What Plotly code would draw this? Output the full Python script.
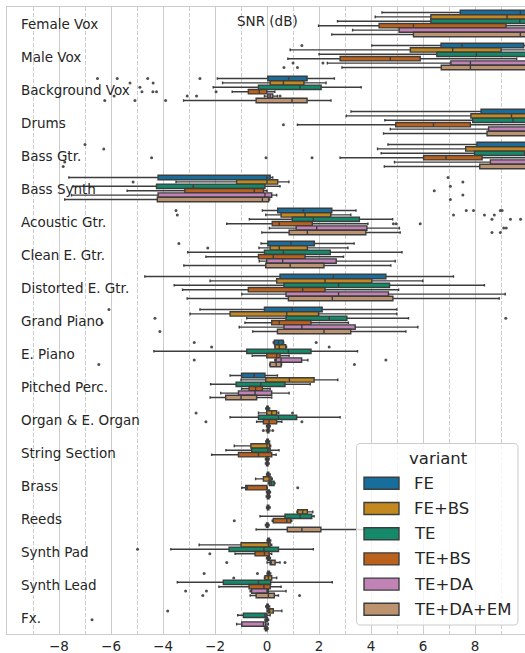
import plotly.graph_objects as go

# ---------------- data ----------------
categories = ["Female Vox", "Male Vox", "Background Vox", "Drums", "Bass Gtr.",
              "Bass Synth", "Acoustic Gtr.", "Clean E. Gtr.", "Distorted E. Gtr.",
              "Grand Piano", "E. Piano", "Pitched Perc.", "Organ & E. Organ",
              "String Section", "Brass", "Reeds", "Synth Pad", "Synth Lead", "Fx."]
variants = ["FE", "FE+BS", "TE", "TE+BS", "TE+DA", "TE+DA+EM"]
colors = ["#176D9C", "#C38820", "#158A6A", "#BA611B", "#C183B6", "#BD926E"]
x_ticks = [-8, -6, -4, -2, 0, 2, 4, 6, 8]

# (lower whisker, q1, median, q3, upper whisker) per category
FE = [(4.42, 7.43, 9.74, 11.6, 14.5), (4.03, 6.69, 7.50, 9.87, 12.6),
      (-1.91, 0.03, 0.83, 1.54, 2.59), (3.23, 8.23, 10.3, 12.0, 14.5),
      (4.65, 8.07, 10.2, 11.8, 14.0), (-7.62, -4.19, -0.01, 0.12, 0.22),
      (-0.18, 0.41, 1.40, 2.49, 3.42), (-0.23, 0.03, 0.92, 1.82, 3.35),
      (-4.70, 0.50, 2.55, 4.57, 7.17), (-2.58, -0.10, 0.97, 2.12, 4.99),
      (0.24, 0.28, 0.44, 0.62, 0.64), (-1.42, -0.98, -0.49, -0.08, 0.40),
      (-0.05, -0.01, 0.02, 0.05, 0.10), (-0.05, -0.01, 0.02, 0.05, 0.10),
      (-0.02, 0.01, 0.04, 0.07, 0.12), (-0.02, 0.01, 0.04, 0.07, 0.12),
      (0.00, 0.03, 0.06, 0.09, 0.14), (0.00, 0.03, 0.06, 0.09, 0.14),
      (-0.05, -0.01, 0.02, 0.05, 0.10)]
FE_BS = [(4.16, 6.30, 9.23, 11.0, 14.0), (0.89, 5.51, 7.14, 9.00, 12.0),
         (-1.71, 0.12, 0.63, 1.42, 2.27), (3.05, 7.84, 9.40, 11.2, 14.0),
         (4.25, 7.64, 10.3, 11.3, 14.0), (-3.50, -1.17, 0.00, 0.41, 0.84),
         (-0.05, 0.54, 1.46, 2.45, 3.22), (-0.31, 0.12, 0.47, 1.55, 3.11),
         (-2.19, 0.37, 2.23, 4.03, 5.99), (-2.96, -1.42, 0.76, 1.98, 4.99),
         (0.30, 0.31, 0.47, 0.72, 0.75), (-1.00, -0.05, 0.86, 1.81, 2.72),
         (-0.33, -0.01, 0.18, 0.37, 0.45), (-1.26, -0.62, 0.00, 0.10, 0.14),
         (-0.44, -0.14, 0.08, 0.15, 0.20), (1.15, 1.18, 1.37, 1.55, 1.76),
         (-2.61, -1.00, 0.05, 0.12, 0.18), (-0.10, -0.08, 0.05, 0.18, 0.37),
         (0.00, 0.05, 0.10, 0.24, 0.57)]
TE = [(2.71, 6.30, 9.72, 11.5, 14.0), (2.00, 6.53, 8.05, 10.3, 13.0),
      (-2.07, -0.33, 1.27, 2.08, 3.62), (4.53, 7.91, 9.46, 11.0, 13.5),
      (4.39, 7.98, 9.90, 11.5, 14.0), (-7.46, -4.25, -2.84, -0.08, 0.50),
      (-0.68, 0.97, 1.78, 3.55, 4.83), (-3.05, -0.10, 0.63, 2.43, 5.19),
      (-3.57, 0.65, 2.75, 4.71, 8.36), (-0.78, 0.73, 2.39, 3.07, 5.44),
      (-4.35, -0.78, 0.82, 1.69, 3.48), (-2.17, -1.19, -0.24, 0.69, 1.66),
      (-1.42, -0.33, 0.44, 1.14, 2.81), (-1.58, -0.59, 0.03, 0.12, 0.46),
      (0.05, 0.09, 0.16, 0.27, 0.30), (-0.27, 0.69, 1.27, 1.72, 1.81),
      (-3.70, -1.46, -0.12, 0.44, 1.78), (-3.45, -1.68, -0.33, 0.14, 2.51),
      (-1.13, -0.91, -0.08, -0.01, 0.12)]
TE_BS = [(1.98, 4.31, 5.63, 9.19, 12.0), (0.80, 2.81, 4.74, 5.89, 9.60),
         (-1.34, -0.72, -0.30, -0.01, 0.30), (1.17, 4.95, 6.40, 7.82, 11.0),
         (2.81, 6.02, 6.88, 8.27, 11.5), (-5.38, -3.16, -0.49, -0.14, 0.00),
         (-1.55, 0.20, 0.47, 1.74, 3.88), (-2.35, -0.33, 0.24, 1.46, 2.94),
         (-3.25, -0.72, 1.37, 2.23, 5.06), (-0.85, 0.18, 0.47, 1.69, 3.13),
         (-0.57, -0.01, 0.37, 0.50, 0.85), (-0.98, -0.69, -0.44, -0.18, 0.12),
         (-0.40, -0.14, 0.08, 0.37, 0.57), (-2.13, -1.10, -0.33, 0.18, 0.35),
         (-0.97, -0.82, -0.76, -0.01, 0.01), (0.20, 0.24, 0.76, 0.91, 0.95),
         (-1.23, -0.46, -0.10, 0.08, 0.18), (-1.85, -0.69, -0.12, 0.12, 0.54),
         (-0.08, -0.04, -0.01, 0.02, 0.06)]
TE_DA = [(3.29, 5.08, 10.3, 12.5, 15.0), (2.32, 7.07, 7.82, 10.5, 13.0),
         (-0.10, 0.03, 0.12, 0.22, 0.40), (4.74, 8.52, 10.4, 12.0, 14.5),
         (4.90, 8.59, 10.3, 12.0, 14.5), (-7.52, -4.19, -0.08, 0.18, 0.37),
         (0.09, 1.12, 1.91, 3.84, 5.09), (-0.30, -0.01, 0.60, 2.66, 4.93),
         (-0.97, 0.73, 2.75, 4.67, 9.16), (-1.07, 0.65, 1.34, 3.39, 5.80),
         (0.30, 0.35, 0.54, 1.33, 1.57), (-1.78, -1.10, -0.46, 0.18, 0.85),
         (-0.02, 0.02, 0.05, 0.08, 0.12), (-0.06, -0.02, 0.01, 0.04, 0.08),
         (-0.02, 0.02, 0.06, 0.09, 0.13), (-0.06, -0.02, 0.01, 0.04, 0.08),
         (-0.02, 0.02, 0.06, 0.09, 0.13), (-0.65, -0.59, 0.00, 0.05, 0.73),
         (-1.17, -0.97, -0.14, -0.05, 0.05)]
TE_DA_EM = [(2.49, 5.63, 9.74, 11.5, 14.0), (2.88, 6.70, 7.82, 10.2, 13.0),
            (-3.21, -0.42, 0.96, 1.54, 2.46), (4.48, 8.46, 10.3, 12.0, 14.5),
            (4.51, 8.18, 10.1, 11.8, 14.0), (-7.78, -4.22, -0.18, 0.06, 0.10),
            (-0.20, 0.85, 1.55, 3.80, 5.12), (-3.20, -0.05, 0.89, 2.19, 4.76),
            (-3.07, 0.82, 2.51, 4.84, 8.93), (-0.55, 0.40, 2.19, 3.22, 5.34),
            (0.10, 0.12, 0.35, 0.54, 0.56), (-2.19, -1.59, -1.00, -0.40, 0.18),
            (-0.03, 0.01, 0.04, 0.07, 0.11), (-0.06, -0.02, 0.01, 0.04, 0.08),
            (-0.03, 0.01, 0.05, 0.08, 0.12), (-0.42, 0.78, 1.34, 2.07, 3.71),
            (0.00, 0.12, 0.15, 0.31, 0.50), (-0.65, -0.42, 0.05, 0.28, 0.44),
            (-0.10, -0.06, -0.03, 0.00, 0.04)]

# outliers: (category index, value)
FE_out = [(1, 1.34), (2, -6.52), (2, -5.76), (2, -4.59), (2, -2.58), (4, -7.0),
          (5, 6.96), (6, -3.5), (6, 7.66), (6, 7.94), (6, 8.97), (6, 9.04),
          (7, -3.39), (9, -6.08), (10, -2.8), (10, 1.89), (17, -2.42), (17, -0.37)]
FE_BS_out = [(2, -5.27), (2, -4.38), (4, -6.28), (5, -5.15), (5, 7.53),
             (6, -3.45), (6, 7.17), (6, 8.36), (6, 8.74), (7, -2.28),
             (10, -2.13), (10, 2.39), (12, -2.73), (12, 0.98), (17, -1.28), (18, -3.82)]
TE_out = [(2, -4.89), (5, 7.05), (6, 8.65), (6, 9.36), (6, 9.75),
          (9, -4.31), (9, 9.18), (16, -4.98)]
TE_BS_out = [(2, -4.81), (2, -4.39), (2, -4.25), (2, -1.96), (3, 0.63),
             (4, -4.44), (4, -0.04), (4, 1.73), (5, 6.43), (6, 4.86), (6, 4.97),
             (6, 5.89), (9, -6.34), (12, -2.35), (12, 1.34), (14, 1.18),
             (15, -1.26), (16, -2.2), (18, -6.73)]
TE_DA_out = [(1, 1.0), (1, 2.15), (2, -5.88), (2, -3.07), (2, -2.71), (2, 0.5),
             (4, -7.78), (5, 7.53), (6, 9.1), (6, 9.2), (10, -2.8), (10, 4.57),
             (17, -3.13), (17, -2.33)]
TE_DA_EM_out = [(1, 0.65), (1, 1.17), (2, -6.24), (2, -5.08), (2, -3.9), (4, -7.84),
                (5, 7.05), (6, 8.65), (6, 8.97), (9, -4.12), (10, -6.47), (10, 3.36),
                (12, -0.14), (12, 0.22), (16, -1.55), (16, 0.69), (17, -2.47), (17, 1.25)]

stats = [FE, FE_BS, TE, TE_BS, TE_DA, TE_DA_EM]
outs = [FE_out, FE_BS_out, TE_out, TE_BS_out, TE_DA_out, TE_DA_EM_out]

# ---------------- figure ----------------
EDGE = "#3d3d3d"
TXT = "#262626"
FONT = "DejaVu Sans"
W, H = 525, 653
ML, MR, MT, MB = 7, 0, 7, 19
PW, PH = W - ML - MR, H - MT - MB

fig = go.Figure()
n = len(variants)
slot = 0.8 / n
for j, v in enumerate(variants):
    rows = stats[j]
    off = (j - (n - 1) / 2) * slot
    fig.add_trace(go.Box(
        y=[i + off for i in range(len(categories))],
        lowerfence=[r[0] for r in rows], q1=[r[1] for r in rows],
        median=[r[2] for r in rows], q3=[r[3] for r in rows],
        upperfence=[r[4] for r in rows],
        orientation="h", width=slot, fillcolor=colors[j],
        line=dict(color=EDGE, width=1.4), whiskerwidth=0.6,
        boxpoints=False, name=v, showlegend=False, hoverinfo="skip"))
    fig.add_trace(go.Scatter(
        x=[o[1] for o in outs[j]], y=[o[0] + off for o in outs[j]],
        mode="markers", marker=dict(size=3, color="#505050"),
        showlegend=False, hoverinfo="skip"))


def px_x(px):
    return (px - ML) / PW


def px_y(py):
    return (H - MB - py) / PH


annotations = []
for i, c in enumerate(categories):
    annotations.append(dict(x=px_x(19), xref="paper", y=i, yref="y", text=c,
                            xanchor="left", yanchor="middle", showarrow=False,
                            font=dict(size=13.5, color=TXT, family=FONT)))
annotations.append(dict(x=0, xref="x", y=px_y(21), yref="paper", text="SNR (dB)",
                        xanchor="center", yanchor="middle", showarrow=False,
                        font=dict(size=13.5, color=TXT, family=FONT)))

# manual legend (matplotlib-style)
shapes = []
lx0, lx1, ly0, ly1, rad = 356.5, 518, 443.5, 625, 4


def rounded(x0, y0, x1, y1, r):
    pts = [("M", (x0 + r, y0)), ("L", (x1 - r, y0)), ("Q", (x1, y0, x1, y0 + r)),
           ("L", (x1, y1 - r)), ("Q", (x1, y1, x1 - r, y1)), ("L", (x0 + r, y1)),
           ("Q", (x0, y1, x0, y1 - r)), ("L", (x0, y0 + r)), ("Q", (x0, y0, x0 + r, y0))]
    s = ""
    for cmd, p in pts:
        if cmd == "Q":
            s += "Q%.5f,%.5f %.5f,%.5f " % (px_x(p[0]), px_y(p[1]), px_x(p[2]), px_y(p[3]))
        else:
            s += "%s%.5f,%.5f " % (cmd, px_x(p[0]), px_y(p[1]))
    return s + "Z"


shapes.append(dict(type="path", xref="paper", yref="paper", layer="above",
                   path=rounded(lx0, ly0, lx1, ly1, rad),
                   fillcolor="rgba(255,255,255,0.8)", line=dict(color="#cccccc", width=1)))
annotations.append(dict(x=px_x(438), xref="paper", y=px_y(458), yref="paper",
                        text="variant", showarrow=False, xanchor="center", yanchor="middle",
                        font=dict(size=16.5, color=TXT, family=FONT)))
for j, v in enumerate(variants):
    cy = 483.3 + 25.2 * j
    shapes.append(dict(type="rect", xref="paper", yref="paper", layer="above",
                       x0=px_x(364), x1=px_x(399), y0=px_y(cy - 6), y1=px_y(cy + 6),
                       fillcolor=colors[j], line=dict(color=EDGE, width=1.4)))
    annotations.append(dict(x=px_x(412), xref="paper", y=px_y(cy), yref="paper",
                            text=v, showarrow=False, xanchor="left", yanchor="middle",
                            font=dict(size=16.5, color=TXT, family=FONT)))

fig.update_layout(
    width=W, height=H, margin=dict(l=ML, r=MR, t=MT, b=MB, pad=0),
    plot_bgcolor="white", paper_bgcolor="white", showlegend=False,
    font=dict(family=FONT, color=TXT, size=13.5),
    annotations=annotations, shapes=shapes,
)
fig.update_xaxes(range=[-10, 9.92], tickvals=x_ticks, showgrid=True,
                 gridcolor="#cccccc", gridwidth=1,
                 minor=dict(dtick=1, tick0=0, showgrid=True, gridcolor="#cccccc",
                            griddash="4px,2px", gridwidth=1),
                 zeroline=False, showline=True, linecolor="#cccccc", linewidth=1.25,
                 mirror=True, ticks="", tickfont=dict(size=13.5, color=TXT, family=FONT))
fig.update_yaxes(range=[len(categories) - 0.5, -0.5], showgrid=False, zeroline=False,
                 showticklabels=False, showline=True, linecolor="#cccccc", linewidth=1.25,
                 ticks="")

fig.write_html("out.html", config={"displayModeBar": False},
               post_script="document.body.style.margin='0px';"
                           "document.body.style.overflow='hidden';")
